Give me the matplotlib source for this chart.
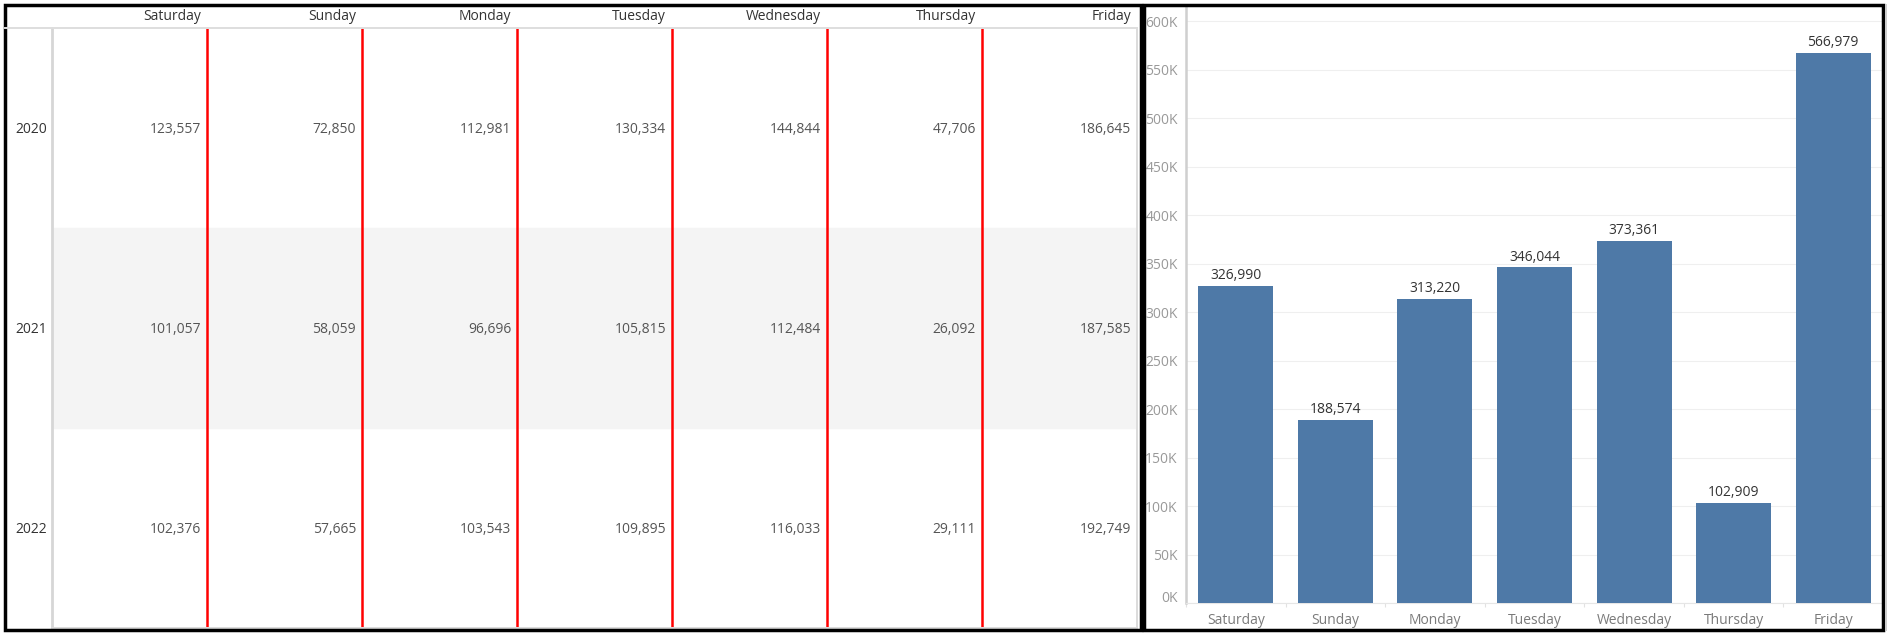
import matplotlib.pyplot as plt
from matplotlib.lines import Line2D
from matplotlib.patches import Rectangle
from matplotlib.ticker import FuncFormatter, MultipleLocator, FixedLocator
import matplotlib.transforms as mtransforms

plt.rcParams['font.family'] = ['Open Sans', 'DejaVu Sans']

days = ['Saturday', 'Sunday', 'Monday', 'Tuesday', 'Wednesday', 'Thursday', 'Friday']
years = ['2020', '2021', '2022']
sales2020 = [123557, 72850, 112981, 130334, 144844, 47706, 186645]
sales2021 = [101057, 58059, 96696, 105815, 112484, 26092, 187585]
sales2022 = [102376, 57665, 103543, 109895, 116033, 29111, 192749]
totals = [326990, 188574, 313220, 346044, 373361, 102909, 566979]

W, H = 1889, 634

def frac(x0, y0, x1, y1):
    # pixel box (from top-left) -> figure fraction rect
    return [x0 / W, 1 - y1 / H, (x1 - x0) / W, (y1 - y0) / H]

fig = plt.figure(figsize = (W / 100, H / 100), dpi = 100)
fig.patch.set_facecolor('white')

# ---- left panel: text table ----
tab = fig.add_axes(frac(52, 28, 1137, 628))
tab.set_xlim(0, 7)
tab.set_ylim(3, 0)
tab.set_xticks([])
tab.set_yticks([])
tab.axhspan(1, 2, color = '#f4f4f4', zorder = 0)
tab.vlines(range(1, 7), 0, 3, color = '#ff0000', linewidth = 1.8, zorder = 2)

tab.spines['top'].set_visible(False)
tab.spines['left'].set_color('#d6d6d6')
tab.spines['left'].set_linewidth(2.0)
tab.spines['right'].set_color('#dcdcdc')
tab.spines['right'].set_linewidth(1.4)
tab.spines['bottom'].set_color('#dcdcdc')
tab.spines['bottom'].set_linewidth(1.4)

rows = [sales2020, sales2021, sales2022]
for r, row in enumerate(rows):
    for c, v in enumerate(row):
        tab.annotate(f'{v:,}', (c + 1, r + 0.5), xytext = (-4.3, -1), textcoords = 'offset points',
                     ha = 'right', va = 'center', color = '#555555', fontsize = 10)
    tab.annotate(years[r], (0, r + 0.5), xytext = (-26.6, -1), textcoords = 'offset points',
                 ha = 'left', va = 'center', color = '#333333', fontsize = 10, annotation_clip = False)

for c, d in enumerate(days):
    tab.annotate(d, (c + 1, 0), xytext = (-4.3, 8), textcoords = 'offset points',
                 ha = 'right', va = 'center', color = '#333333', fontsize = 10, annotation_clip = False)

# header separator across the whole left panel
fig.add_artist(Line2D([5 / W, 1137 / W], [1 - 28 / H, 1 - 28 / H], transform = fig.transFigure,
                      color = '#dedede', linewidth = 1.4))

# ---- right panel: bar chart ----
ax = fig.add_axes(frac(1186, 6, 1883, 603))
bars = ax.bar(range(len(days)), totals, width = 0.753, color = '#4e79a7', zorder = 3)
ax.bar_label(bars, labels = [f'{v:,}' for v in totals], padding = 2, color = '#333333', fontsize = 10)
ax.set_xlim(-0.5, 6.5)
ax.set_ylim(0, 615500)
ax.set_xticks(range(len(days)))
ax.set_xticklabels(days)
ax.xaxis.set_minor_locator(FixedLocator([i - 0.5 for i in range(len(days) + 1)]))
ax.yaxis.set_major_locator(MultipleLocator(50000))
ax.yaxis.set_major_formatter(FuncFormatter(lambda v, p: f'{v / 1000:.0f}K'))
ax.grid(axis = 'y', color = '#efefef', linewidth = 0.8, zorder = 0)
ax.tick_params(axis = 'y', length = 0, pad = 6, labelcolor = '#999999', labelsize = 10)
ax.tick_params(axis = 'x', which = 'major', length = 0, pad = 7, labelcolor = '#7a7a7a', labelsize = 10)
ax.tick_params(axis = 'x', which = 'minor', length = 3, width = 0.8, color = '#e2e2e2')
ax.spines['top'].set_visible(False)
ax.spines['right'].set_visible(False)
ax.spines['left'].set_color('#cfcfcf')
ax.spines['left'].set_linewidth(1.8)
ax.spines['bottom'].set_color('#e6e6e6')
ax.spines['bottom'].set_linewidth(0.8)

# keep the bottom "0K" label lifted inside the pane, as in the source
fig.canvas.draw()
for lab in ax.get_yticklabels():
    if lab.get_text() == '0K':
        lab.set_transform(lab.get_transform() + mtransforms.ScaledTranslation(0, 7 / 100, fig.dpi_scale_trans))

# ---- black frames round both panels ----
fig.add_artist(Rectangle((5 / W, 1 - 630 / H), (1141 - 5) / W, (630 - 5) / H, transform = fig.transFigure,
                         fill = False, edgecolor = 'black', linewidth = 2.5))
fig.add_artist(Rectangle((1144 / W, 1 - 630 / H), (1883 - 1144) / W, (630 - 5) / H, transform = fig.transFigure,
                         fill = False, edgecolor = 'black', linewidth = 2.5))
fig.add_artist(Line2D([1886 / W, 1886 / W], [1 - 630 / H, 1 - 5 / H], transform = fig.transFigure,
                      color = '#cccccc', linewidth = 1.4))

fig.savefig('out.png', dpi = 100)
